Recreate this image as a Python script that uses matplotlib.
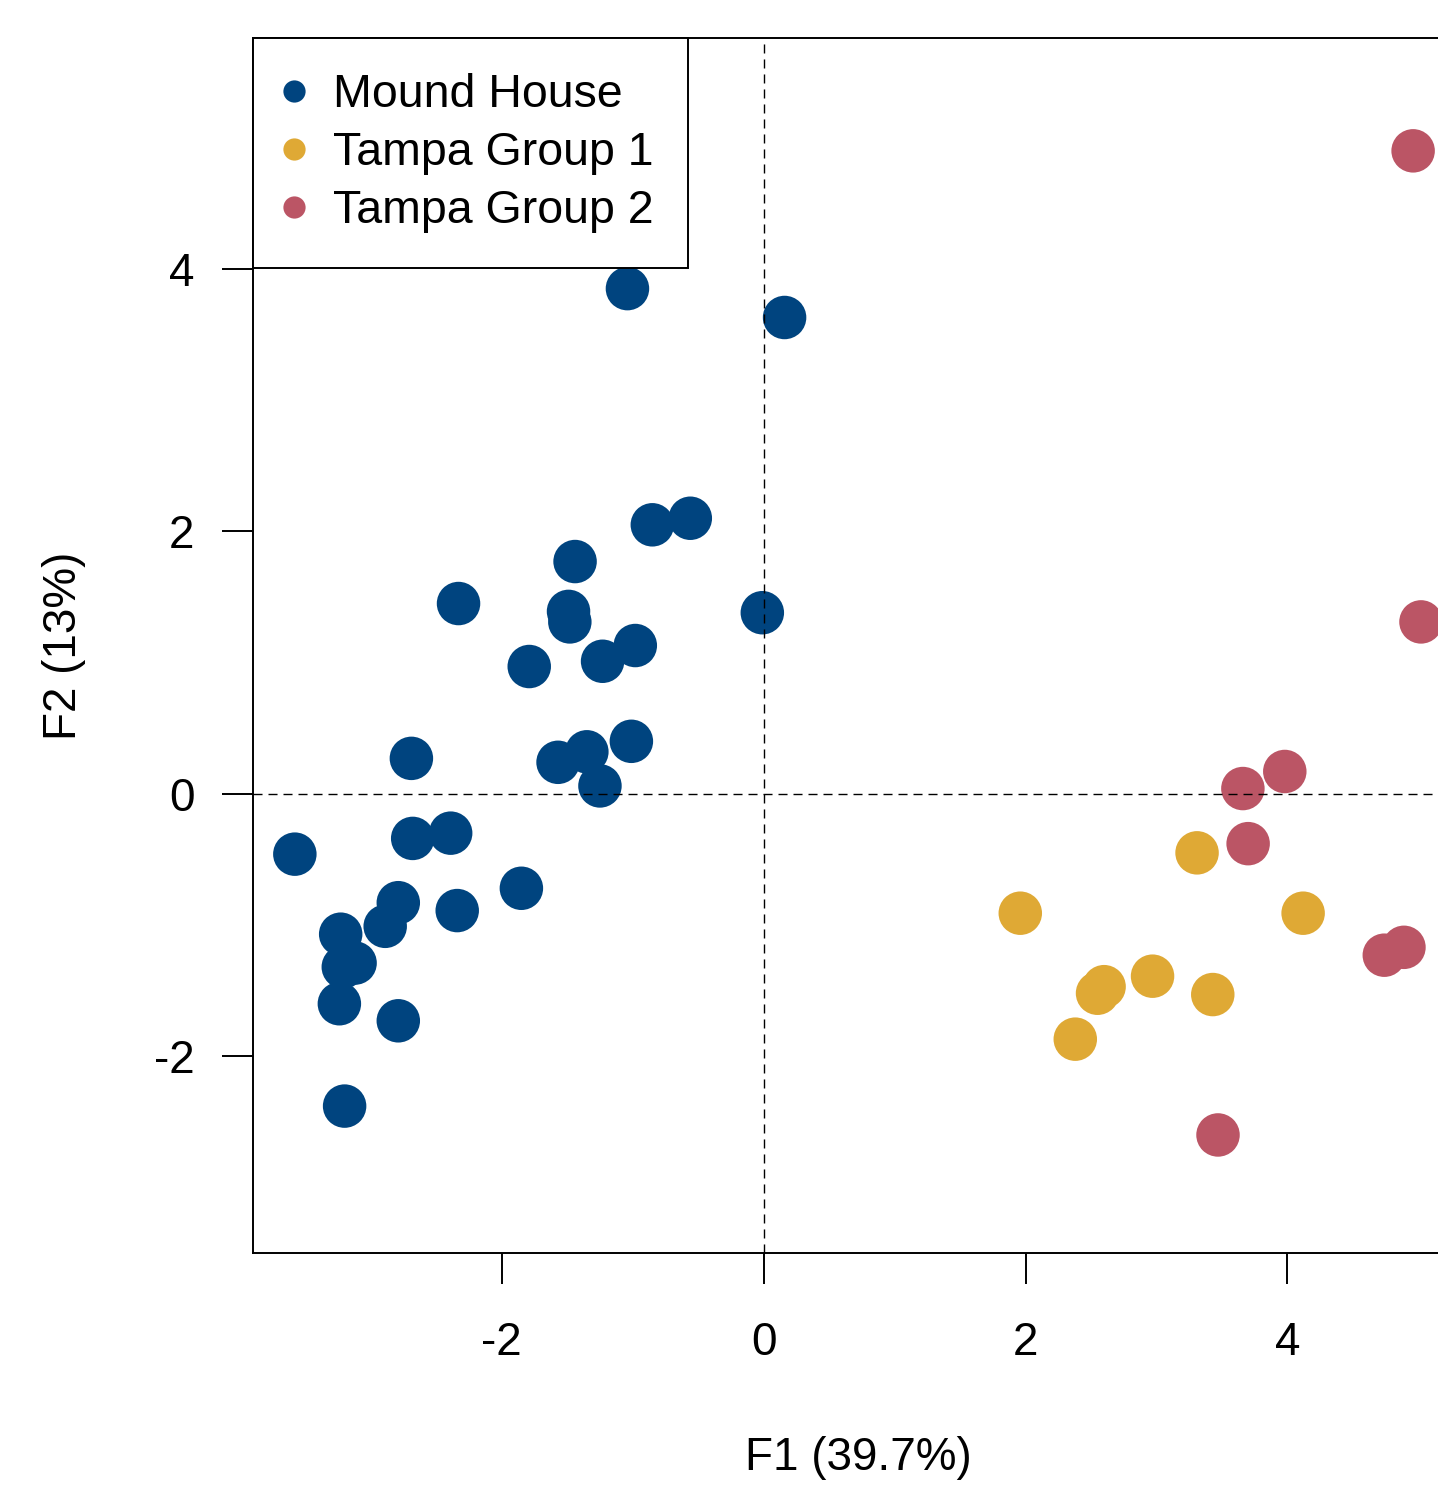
import numpy as np
import matplotlib.pyplot as plt

plt.rcParams['font.family'] = ['Liberation Sans', 'DejaVu Sans']

# Mound House
mh_x = [-1.04, 0.16, -0.56, -0.85, -1.44, -2.33, -1.49, -1.48, -0.01, -0.98,
        -1.23, -1.79, -1.01, -2.69, -1.35, -1.57, -1.25, -2.68, -2.39, -3.58,
        -1.85, -2.79, -2.34, -2.89, -3.23, -3.12, -3.21, -3.24, -2.79, -3.20]
mh_y = [3.85, 3.63, 2.10, 2.05, 1.77, 1.45, 1.39, 1.31, 1.38, 1.13,
        1.01, 0.97, 0.40, 0.27, 0.32, 0.24, 0.06, -0.34, -0.30, -0.46,
        -0.72, -0.83, -0.89, -1.01, -1.07, -1.29, -1.32, -1.60, -1.73, -2.38]

# Tampa Group 1
t1_x = [3.31, 1.96, 4.12, 2.97, 2.60, 2.55, 3.43, 2.38]
t1_y = [-0.45, -0.91, -0.91, -1.39, -1.47, -1.52, -1.53, -1.87]

# Tampa Group 2
t2_x = [4.96, 5.02, 3.98, 3.66, 3.70, 4.74, 4.89, 3.47]
t2_y = [4.90, 1.31, 0.17, 0.04, -0.38, -1.23, -1.17, -2.60]

groups = ['Mound House', 'Tampa Group 1', 'Tampa Group 2']
colors = ['#00447f', '#dfa935', '#bb5565']

fig = plt.figure(figsize=(14.38, 14.96), dpi=100)
ax = fig.add_axes([0.1759, 0.1624, 0.8414, 0.8122])

for gx, gy, c in zip([mh_x, t1_x, t2_x], [mh_y, t1_y, t2_y], colors):
    ax.scatter(gx, gy, s=980, color=c, edgecolors='none', zorder=2)

ax.axhline(0, color='black', lw=1.0, dashes=(6.5, 4.3), zorder=3)
ax.axvline(0, color='black', lw=1.0, dashes=(6.5, 4.3), zorder=3)

ax.set_xlim(-3.90, 5.34)
ax.set_ylim(-3.50, 5.76)
ax.set_xticks([-2, 0, 2, 4])
ax.set_yticks([-2, 0, 2, 4])
ax.set_xticklabels(['-2', '0', '2', '4'])
ax.set_yticklabels(['-2', '0', '2', '4'])

for s in ax.spines.values():
    s.set_linewidth(1.4)
ax.tick_params(axis='both', length=22, width=1.4, labelsize=33)
ax.tick_params(axis='x', pad=27)
ax.tick_params(axis='y', pad=20)

ax.set_xlabel('F1 (39.7%)', fontsize=33, labelpad=51)
ax.set_ylabel('F2 (13%)', fontsize=33, labelpad=49)

handles = [plt.Line2D([], [], marker='o', ls='none', color=c, markersize=16,
                      markeredgewidth=0) for c in colors]
leg = ax.legend(handles, groups, loc='upper left', fontsize=33.5,
                borderaxespad=0, fancybox=False, edgecolor='black',
                framealpha=1, handlelength=0.25, handletextpad=0.72,
                labelspacing=0.3, borderpad=0.75)
leg.get_frame().set_linewidth(1.4)

fig.savefig('out.png', dpi=100)
